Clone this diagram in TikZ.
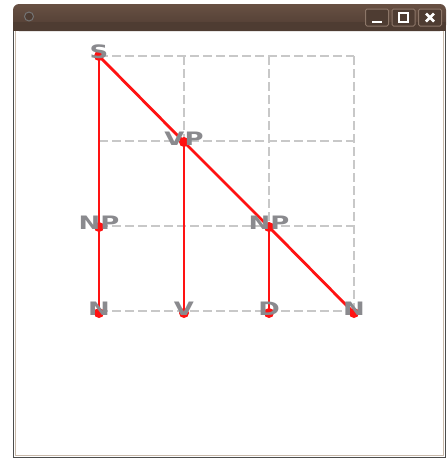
\documentclass[tikz,border=0pt]{standalone}
\usepackage{fontspec}
\setmainfont{DejaVu Sans}
\definecolor{bartop}{RGB}{104,80,67}
\definecolor{barbot}{RGB}{78,60,50}
\definecolor{btnedge}{RGB}{140,118,104}
\definecolor{frame}{RGB}{200,185,170}
\definecolor{lblgray}{RGB}{138,138,142}
\definecolor{gridgray}{RGB}{200,200,200}
\definecolor{tred}{RGB}{255,18,18}
\begin{document}
\begin{tikzpicture}[x=1pt,y=-1pt,
  grid/.style={draw=gridgray,line width=2.2pt,dash pattern=on 9pt off 4pt},
  edge/.style={draw=tred,line width=2.8pt},
  dot/.style={circle,fill=tred,inner sep=0pt,minimum size=10pt},
  lbl/.style={text=lblgray,font=\bfseries\fontsize{18.5}{18.5}\selectfont,inner sep=0pt,xscale=1.4},
  btn/.style={draw=btnedge,fill=barbot,rounded corners=1.5pt,line width=1pt,minimum width=23pt,minimum height=17pt,inner sep=0pt}]
\useasboundingbox (0,0) rectangle (448,459);
% window
\fill[white] (0,0) rectangle (448,459);
\draw[fill=white,draw=black!70,line width=1.2pt] (13.6,20) rectangle (445.4,457.4);
\draw[draw=frame,line width=1.2pt] (15.8,30) rectangle (443.2,455.6);
\shade[top color=bartop,bottom color=barbot,rounded corners=6pt] (13,4) rectangle (446,31);
\fill[barbot] (13,22) rectangle (446,31);
\node[circle,draw=black!55,fill=barbot,line width=1pt,minimum size=9pt,inner sep=0pt] (knob) at (29,16.5) {};
\node[btn] (bmin) at (377,17.5) {};
\node[btn] (bmax) at (403.5,17.5) {};
\node[btn] (bclose) at (430,17.5) {};
\fill[white] (372,20.5) rectangle (382,23);
\draw[white,line width=1.6pt] (399,13) rectangle (408,22);
\draw[white,line width=2.8pt] (426,13.5) -- (434,21.5) (434,13.5) -- (426,21.5);
% grid
\foreach \y in {56,141,226,311} \draw[grid] (99,\y) -- (354,\y);
\foreach \x in {99,184,269,354} \draw[grid] (\x,56) -- (\x,311);
% tree points
\coordinate (S) at (99,56);
\coordinate (VP) at (184,142);
\coordinate (NP1) at (99,227);
\coordinate (NP2) at (269,227);
\coordinate (N1) at (99,313);
\coordinate (V) at (184,313);
\coordinate (D) at (269,313);
\coordinate (N2) at (354,313);
% edges
\draw[edge] (S) -- (NP1);
\draw[edge] (NP1) -- (N1);
\draw[edge] (S) -- (VP);
\draw[edge] (VP) -- (V);
\draw[edge] (VP) -- (NP2);
\draw[edge] (NP2) -- (D);
\draw[edge] (NP2) -- (N2);
% dots
\foreach \p in {S,VP,NP1,NP2,N1,V,D,N2} \node[dot] (d\p) at (\p) {};
% labels
\node[lbl] (lS) at (99,52) {S};
\node[lbl] (lVP) at (184,138.5) {VP};
\node[lbl] (lNP1) at (99,222.5) {NP};
\node[lbl] (lNP2) at (269,222.5) {NP};
\node[lbl] (lN1) at (99,308.5) {N};
\node[lbl] (lV) at (184,308.5) {V};
\node[lbl] (lD) at (269,308.5) {D};
\node[lbl] (lN2) at (354,308.5) {N};
\end{tikzpicture}
\end{document}
